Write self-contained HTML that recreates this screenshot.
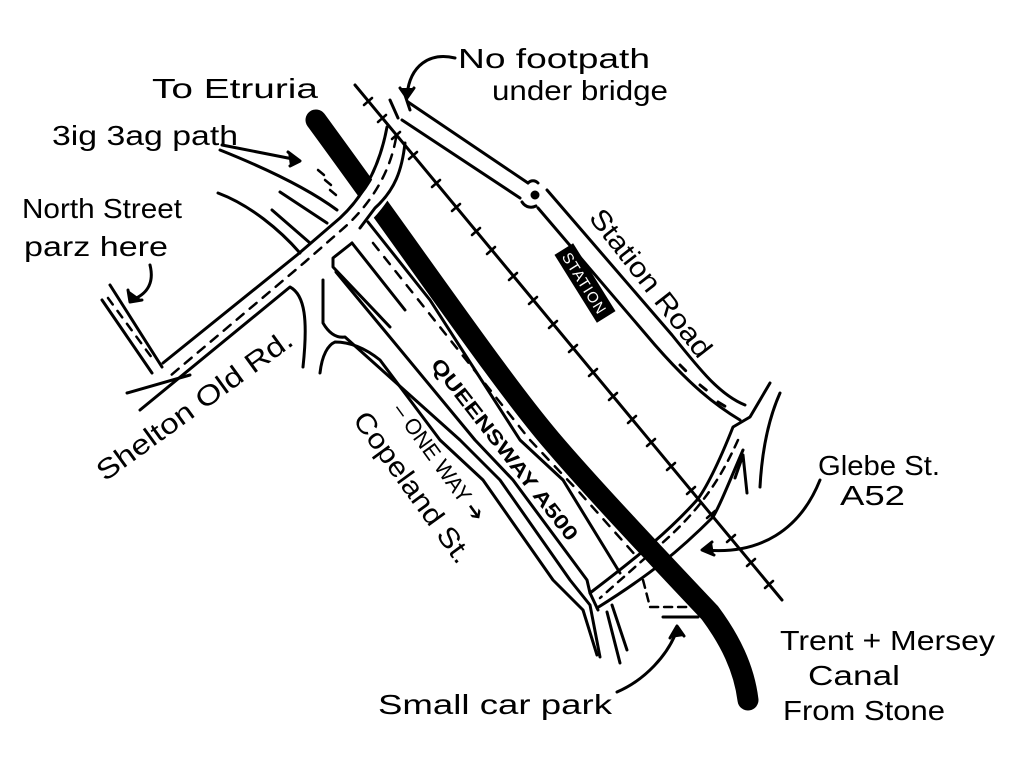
<!DOCTYPE html>
<html><head><meta charset="utf-8"><style>
html,body{margin:0;padding:0;background:#fff;}
svg{display:block;}
text{font-family:"Liberation Sans",sans-serif;fill:#000;}
.h{font-size:28px;}
</style></head><body>
<svg width="1024" height="770" viewBox="0 0 1024 770" xmlns="http://www.w3.org/2000/svg">
<g fill="none" stroke="#000" stroke-width="3" stroke-linecap="round" stroke-linejoin="round">
<!-- canal -->
<path d="M316,120 C420,262 500,380 551,440 C590,486 660,560 710,613 C730,640 744,668 748,700" stroke-width="21"/>
<!-- road over canal -->
<path d="M392,165 C385,185 372,205 352,222" stroke="#fff" stroke-width="24" stroke-linecap="butt"/>
<!-- railway -->
<path d="M355,85 L782,600"/>
<g stroke-width="2.5">
<path d="M372,98 l-8,7 M386,115 l-8,7 M400,132 l-8,7 M417,152 l-8,7 M440,180 l-8,7 M460,204 l-8,7 M480,228 l-8,7 M495,247 l-8,7 M517,273 l-8,7 M537,297 l-8,7 M557,321 l-8,7 M577,345 l-8,7 M597,369 l-8,7 M617,393 l-8,7 M636,416 l-8,7 M655,439 l-8,7 M675,463 l-8,7 M695,487 l-8,7 M715,511 l-8,7 M735,535 l-8,7 M755,559 l-8,7 M773,581 l-8,7"/>
</g>
<path d="M390,100 L398,118 M404,92 L410,110"/>
<!-- Station road -->
<path d="M408,102 L528,183 M402,120 L520,198"/>
<circle cx="535" cy="195" r="3" fill="#000"/>
<path d="M528,183 C531,180 535,180 538,183 M522,202 C526,208 532,208 536,206"/>
<path d="M547,190 L672,335 C700,370 720,395 745,405"/>
<path d="M538,208 L655,345 C690,385 715,405 740,420"/>
<path d="M680,365 l8,8 M700,385 l10,8 M718,402 l10,6" stroke-dasharray="8 8"/>
<!-- Glebe st -->
<path d="M770,383 L750,417 L733,427 C718,465 705,490 697,500 C670,530 640,555 590,593 L598,610"/>
<path d="M743,450 C728,485 720,505 713,517 C680,550 650,575 597,608"/>
<path d="M780,393 C768,420 762,450 760,487"/>
<path d="M747,493 L743,455 L735,478"/>
<path d="M738,440 C720,480 700,510 660,545 L600,598" stroke-dasharray="8 7" stroke-width="2.5"/>
<!-- main road N-S + Shelton Old Rd -->
<path d="M387,127 C380,165 365,195 340,218 L297,255 L163,363"/>
<path d="M405,143 C402,170 395,190 375,208 L360,228"/>
<path d="M396,138 C390,172 372,202 346,226 L305,262 L170,376" stroke-dasharray="9 8" stroke-width="2.5"/>
<path d="M140,410 L290,287 C305,295 308,320 303,367"/>
<path d="M127,393 L190,375"/>
<!-- North Street -->
<path d="M110,285 L162,367 M102,300 L152,373"/>
<path d="M108,298 L155,362" stroke-dasharray="8 8" stroke-width="2.5"/>
<!-- zigzag path lines -->
<path d="M220,150 C270,170 310,190 337,210 M218,193 C250,205 280,230 300,253 M280,192 L327,223 M272,210 L310,243"/>
<path d="M318,170 l6,5 M325,180 l6,5 M330,190 l6,5" stroke-width="2.5"/>
<!-- Queensway / Copeland -->
<path d="M368,222 L430,300 L520,440 L563,480 L620,573"/>
<path d="M373,243 L530,440 L580,493 L637,557" stroke-dasharray="9 9" stroke-width="2.5"/>
<path d="M352,243 L333,258 L333,267 L390,327"/>
<path d="M352,243 L405,310"/>
<path d="M336,272 L475,440 L513,480 L587,580 L590,593"/>
<path d="M323,280 L323,323 C330,335 338,338 345,337 L460,440 L500,480 L570,580 L590,605 L600,657"/>
<path d="M320,373 C322,355 328,345 335,342 C350,342 365,348 380,360 L440,440 L483,480 L553,580 L583,610 L597,655"/>
<path d="M607,612 L620,663 M612,605 L627,650"/>
<!-- car park -->
<path d="M643,580 L650,607 L693,607 L667,577" stroke-dasharray="8 6" stroke-width="2.5"/>
<path d="M663,617 L698,617"/>
<!-- arrows -->
<path d="M617,692 C645,680 668,655 677,630"/>
<path d="M670,638 L677,626 L684,636" fill="#000"/>
<path d="M820,480 C800,530 760,555 705,550"/>
<path d="M712,542 L702,550 L714,555" fill="#000"/>
<path d="M222,145 L298,160"/>
<path d="M288,152 L300,161 L290,166" fill="#000"/>
<path d="M150,265 C155,285 145,295 132,300"/>
<path d="M128,290 L130,302 L142,300" fill="#000"/>
<path d="M455,58 C430,52 410,65 407,95"/>
<path d="M400,88 L407,98 L414,88" fill="#000"/>
</g>
<g transform="translate(585,283) rotate(58)">
<rect x="-40" y="-11" width="80" height="22" fill="#000"/>
<text x="0" y="6" text-anchor="middle" font-size="15" style="fill:#fff" letter-spacing="1">STATION</text>
</g>
<text class="h" x="152" y="98" textLength="166" lengthAdjust="spacingAndGlyphs">To Etruria</text>
<text class="h" x="458" y="68" textLength="192" lengthAdjust="spacingAndGlyphs">No footpath</text>
<text class="h" x="492" y="100" textLength="176" lengthAdjust="spacingAndGlyphs">under bridge</text>
<text class="h" x="52" y="145" textLength="186" lengthAdjust="spacingAndGlyphs">3ig 3ag path</text>
<text class="h" x="22" y="218" textLength="160" lengthAdjust="spacingAndGlyphs">North Street</text>
<text class="h" x="24" y="256" textLength="144" lengthAdjust="spacingAndGlyphs">parz here</text>
<text class="h" transform="translate(105,482) rotate(-36)" textLength="235" lengthAdjust="spacingAndGlyphs">Shelton Old Rd.</text>
<text class="h" transform="translate(588,218) rotate(52)" textLength="180" lengthAdjust="spacingAndGlyphs">Station Road</text>
<text font-size="20" font-weight="bold" transform="translate(430,365) rotate(52)" textLength="225" lengthAdjust="spacingAndGlyphs">QUEENSWAY A500</text>
<text font-size="22" transform="translate(392,410) rotate(54)" textLength="140" lengthAdjust="spacingAndGlyphs">– ONE WAY ➔</text>
<text class="h" transform="translate(352,420) rotate(54)" textLength="180" lengthAdjust="spacingAndGlyphs">Copeland St.</text>
<text class="h" x="818" y="475" textLength="122" lengthAdjust="spacingAndGlyphs">Glebe St.</text>
<text class="h" x="840" y="505" textLength="65" lengthAdjust="spacingAndGlyphs">A52</text>
<text class="h" x="780" y="650" textLength="215" lengthAdjust="spacingAndGlyphs">Trent + Mersey</text>
<text class="h" x="808" y="685" textLength="92" lengthAdjust="spacingAndGlyphs">Canal</text>
<text class="h" x="783" y="720" textLength="162" lengthAdjust="spacingAndGlyphs">From Stone</text>
<text class="h" x="378" y="714" textLength="234" lengthAdjust="spacingAndGlyphs">Small car park</text>
</svg>
</body></html>
